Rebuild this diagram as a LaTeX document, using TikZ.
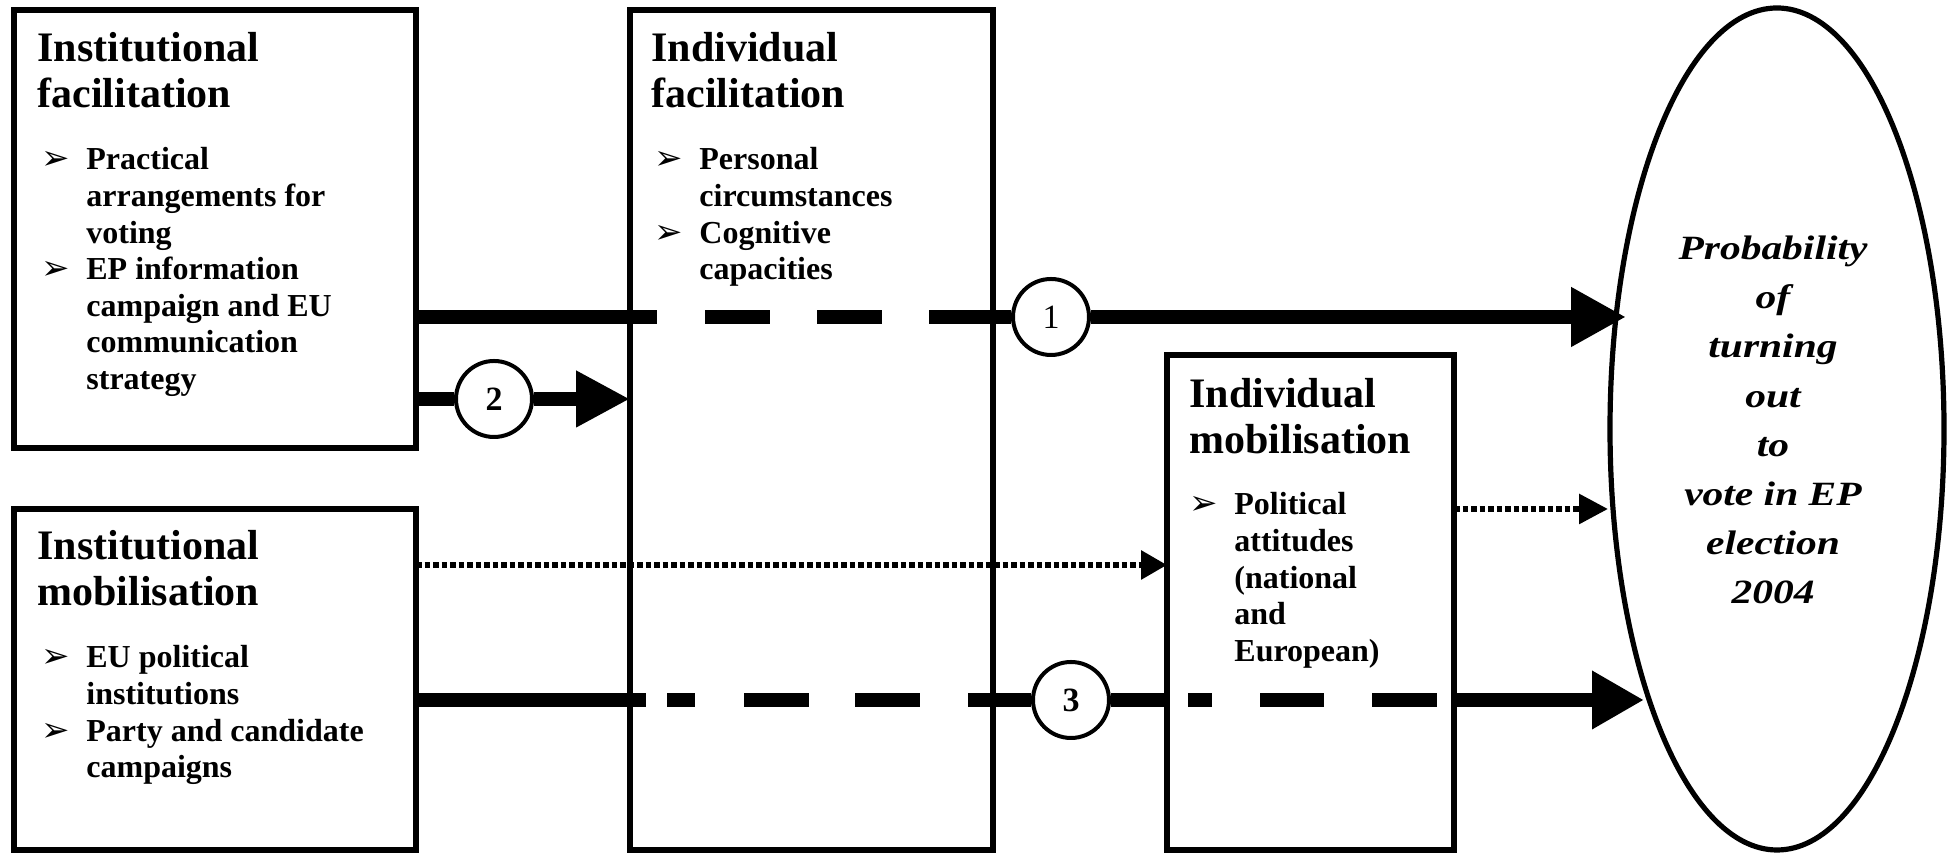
\documentclass[tikz,border=0pt]{standalone}
\usepackage{fontspec}
\setmainfont{Liberation Serif}
\newfontfamily\dejavu{DejaVu Sans}
\newfontfamily\wideserif[FakeStretch=1.22]{Liberation Serif}
\usepackage{tikz}
\usetikzlibrary{arrows.meta,shapes.geometric}

\newcommand{\bul}{\makebox[22.5pt][l]{\dejavu\mdseries\fontsize{17}{17}\selectfont ➢}}
\newcommand{\ind}{\hspace*{22.5pt}}

\begin{document}
\begin{tikzpicture}[x=0.5pt,y=0.5pt,
	box/.style={shape=rectangle,draw=black,line width=2.6pt,inner sep=0pt,outer sep=0pt},
	num/.style={shape=circle,draw=black,fill=white,line width=2pt,minimum size=38pt,inner sep=0pt,font=\fontsize{17}{17}\selectfont\bfseries},
	heading/.style={anchor=base west,inner sep=0pt,align=left,font=\fontsize{21}{23}\selectfont\bfseries},
	items/.style={anchor=base west,inner sep=0pt,align=left,font=\fontsize{16}{18.3}\selectfont\bfseries},
	heavy/.style={line width=7.3pt},
	dots/.style={line width=3pt,dash pattern=on 2.75pt off 1.5pt}]
	\useasboundingbox (0,0) rectangle (1950,854);

	% the four boxes and the outcome
	\node[box,minimum width=201pt,minimum height=219pt]   (ifac)  at (215,625)    {};
	\node[box,minimum width=181.5pt,minimum height=420pt] (idfac) at (811.5,424)  {};
	\node[box,minimum width=201pt,minimum height=170.5pt] (imob)  at (215,174.5)  {};
	\node[box,minimum width=143.5pt,minimum height=247.5pt] (idmob) at (1310.5,251.5) {};
	\node[shape=ellipse,draw=black,line width=2.6pt,minimum width=167pt,minimum height=421pt,inner sep=0pt,outer sep=0pt] (vote) at (1777,425) {};
	\node[align=center,inner sep=0pt,font=\wideserif\bfseries\itshape\fontsize{17}{24.6}\selectfont] (voteT) at (1773,434)
		{Probability\\of\\turning\\out\\to\\vote in EP\\election\\2004};

	% texts, placed by the baseline of their last line
	\node[heading] (ifacT)  at (37,746)   {Institutional\\facilitation};
	\node[heading] (idfacT) at (651,746)  {Individual\\facilitation};
	\node[heading] (imobT)  at (37,248)   {Institutional\\mobilisation};
	\node[heading] (idmobT) at (1189,400) {Individual\\mobilisation};

	\node[items] (ifacL) at (41,464.4) {\bul Practical\\\ind arrangements for\\\ind voting\\
		\bul EP information\\\ind campaign and EU\\\ind communication\\\ind strategy};
	\node[items] (idfacL) at (654,574.2) {\bul Personal\\\ind circumstances\\\bul Cognitive\\\ind capacities};
	\node[items] (imobL) at (41,76.2) {\bul EU political\\\ind institutions\\\bul Party and candidate\\\ind campaigns};
	\node[items] (idmobL) at (1189,192.6) {\bul Political\\\ind attitudes\\\ind (national\\\ind and\\\ind European)};

	\node[num] (c1) at (1051,537) {\mdseries 1};
	\node[num] (c2) at (494,455)  {2};
	\node[num] (c3) at (1071,154) {3};

	\coordinate (t1) at (1626,537);
	\coordinate (t3) at (1644,154);
	\coordinate (tA) at (1167,289);
	\coordinate (tB) at (1608,345);

	% paths 1, 2 and 3
	\draw[heavy,dash pattern=on 120.5pt off 24pt on 32.5pt off 23.5pt on 32.5pt off 23.5pt on 150pt] (ifac.east |- c1) -- (c1);
	\draw[heavy,-{Triangle[length=27.5pt,width=28pt]}] (c1) -- (t1);
	\draw[heavy] (ifac.east |- c2) -- (c2);
	\draw[heavy,-{Triangle[length=27pt,width=26.5pt]}] (c2) -- (idfac.west |- c2);
	\draw[heavy,dash pattern=on 115pt off 10.5pt on 14pt off 24.5pt on 32.5pt off 23pt on 32.5pt off 24pt on 100pt] (imob.east |- c3) -- (c3);
	\draw[heavy,dash pattern=on 29pt off 9.5pt on 12pt off 24pt on 32pt off 24pt on 32.5pt off 8pt on 200pt,
		-{Triangle[length=26pt,width=27.5pt]}] (c3) -- (t3);

	% dotted links
	\draw[dots,-{Triangle[length=13pt,width=14pt]}] (imob.east |- tA) -- (tA);
	\draw[dots,-{Triangle[length=14.5pt,width=14.5pt]}] (idmob.east |- tB) -- (tB);
\end{tikzpicture}
\end{document}
